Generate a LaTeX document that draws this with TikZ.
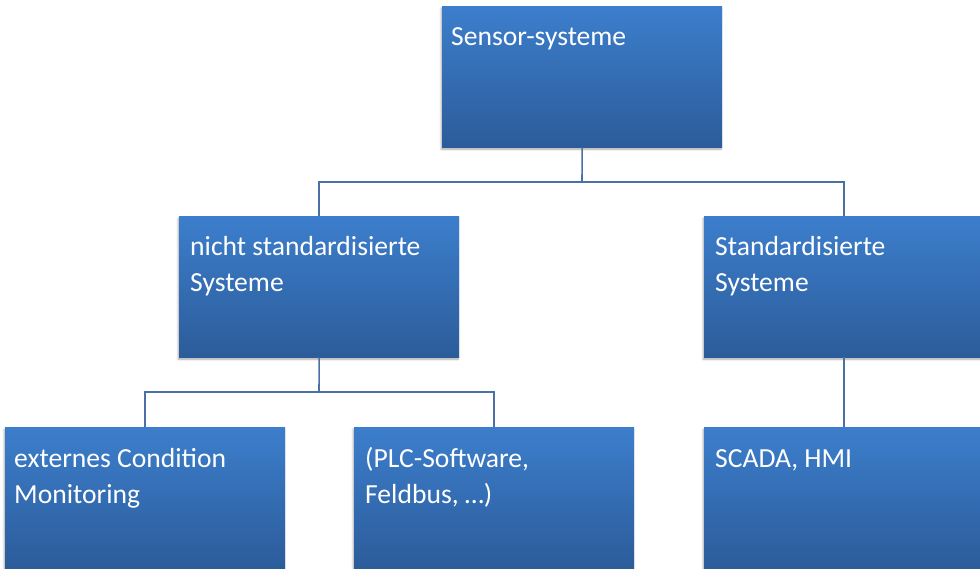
\documentclass[tikz,border=0pt]{standalone}
\usepackage{fontspec}
\setmainfont{Carlito}
\usetikzlibrary{shadows.blur}
\definecolor{boxtop}{RGB}{60,126,204}
\definecolor{boxbot}{RGB}{44,92,154}
\definecolor{linecol}{RGB}{74,112,166}
\tikzset{
  orgbox/.style={rectangle, anchor=north west, minimum width=280pt, minimum height=141pt,
    inner sep=0pt, top color=boxtop, bottom color=boxbot, draw=none,
    blur shadow={shadow xshift=-1pt, shadow yshift=-2pt, shadow blur steps=6, shadow opacity=35}},
  boxtext/.style={anchor=base west, inner sep=0pt, align=left, text=white,
    font=\fontsize{27.6}{36}\selectfont},
  conn/.style={draw=linecol, line width=1.6pt, line join=miter}
}
\begin{document}
\begin{tikzpicture}[x=1pt,y=-1pt]
\useasboundingbox (0,0) rectangle (980,569);
\clip (0,0) rectangle (980,569);
\coordinate (j1) at (582,182);
\coordinate (j2) at (319,392);
\node[orgbox] (top) at (442,6) {};
\node[orgbox] (ml) at (179,216) {};
\node[orgbox] (mr) at (704,216) {};
\node[orgbox] (b1) at (5,427) {};
\node[orgbox] (b2) at (354,427) {};
\node[orgbox] (b3) at (704,427) {};
\draw[conn] (top.south) -- (j1);
\draw[conn] (ml.north) |- (j1) -| (mr.north);
\draw[conn] (ml.south) -- (j2);
\draw[conn] (b1.north) |- (j2) -| (b2.north);
\draw[conn] (mr.south) -- (b3.north);
% texts (base west = baseline of the last line)
\node[boxtext] (ttop) at ([xshift=9pt,yshift=-40pt]top.north west) {Sensor-systeme};
\node[boxtext] (tml) at ([xshift=11pt,yshift=-76pt]ml.north west) {nicht standardisierte\\Systeme};
\node[boxtext] (tmr) at ([xshift=11pt,yshift=-76pt]mr.north west) {Standardisierte\\Systeme};
\node[boxtext] (tb1) at ([xshift=9pt,yshift=-76pt]b1.north west) {externes Condition\\Monitoring};
\node[boxtext] (tb2) at ([xshift=11pt,yshift=-76pt]b2.north west) {(PLC-Software,\\Feldbus, …)};
\node[boxtext] (tb3) at ([xshift=11pt,yshift=-40pt]b3.north west) {SCADA, HMI};
\end{tikzpicture}
\end{document}
